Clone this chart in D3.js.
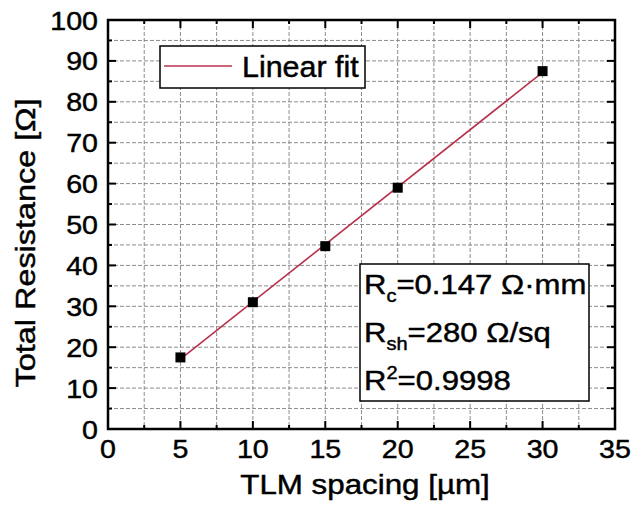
<!DOCTYPE html>
<html>
<head>
<meta charset="utf-8">
<script src="https://cdn.jsdelivr.net/npm/d3@7"></script>
<style>
  html, body { margin: 0; padding: 0; background: #fff; }
  svg { display: block; font-family: "Liberation Sans", Arial, sans-serif; }
  text { fill: #000; stroke: #000; stroke-width: 0.45px; }
</style>
</head>
<body>
<svg id="chart" width="634" height="506"></svg>
<script>
// TLM measurement: total resistance vs. pad spacing
const spacing = [5, 10, 15, 20, 30];               // µm
const resistance = [17.5, 31.0, 44.7, 59.0, 87.5]; // Ω
const xTicks = [0, 5, 10, 15, 20, 25, 30, 35];
const yTicks = [0, 10, 20, 30, 40, 50, 60, 70, 80, 90, 100];
const fitLabel = "Linear fit";
const resultLines = [
  { main: "R", sub: "c", sup: null, rest: "=0.147 Ω·mm" },
  { main: "R", sub: "sh", sup: null, rest: "=280 Ω/sq" },
  { main: "R", sub: null, sup: "2", rest: "=0.9998" }
];

const svg = d3.select("#chart");
const m = { left: 108, top: 20, right: 615, bottom: 429 };
const x = d3.scaleLinear().domain([0, 35]).range([m.left, m.right]);
const y = d3.scaleLinear().domain([0, 100]).range([m.bottom, m.top]);

// text with a slightly widened face
function label(parent, px, py, str, size, anchor, rot, sx) {
  const t = parent.append("text")
    .attr("transform", `translate(${px},${py}) rotate(${rot || 0}) scale(${sx || 1.1},1)`)
    .attr("font-size", size).attr("text-anchor", anchor || "start");
  if (str !== null) t.text(str);
  return t;
}

// dashed grid at minor positions
const gx = d3.range(2.5, 35, 2.5);
const gy = d3.range(5, 100, 5);
const grid = svg.append("g").attr("stroke", "#8c8c8c").attr("stroke-width", 1)
  .attr("stroke-dasharray", "4,2");
grid.selectAll(".gx").data(gx).join("line")
  .attr("x1", d => x(d)).attr("x2", d => x(d))
  .attr("y1", m.top).attr("y2", m.bottom);
grid.selectAll(".gy").data(gy).join("line")
  .attr("x1", m.left).attr("x2", m.right)
  .attr("y1", d => y(d)).attr("y2", d => y(d));

// inward ticks on all four sides
const tk = svg.append("g").attr("stroke", "#000").attr("stroke-width", 2);
const xMinor = d3.range(2.5, 35, 5);
const yMinor = d3.range(5, 100, 10);
function xt(vals, len) {
  vals.forEach(v => {
    tk.append("line").attr("x1", x(v)).attr("x2", x(v)).attr("y1", m.bottom).attr("y2", m.bottom - len);
    tk.append("line").attr("x1", x(v)).attr("x2", x(v)).attr("y1", m.top).attr("y2", m.top + len);
  });
}
function yt(vals, len) {
  vals.forEach(v => {
    tk.append("line").attr("y1", y(v)).attr("y2", y(v)).attr("x1", m.left).attr("x2", m.left + len);
    tk.append("line").attr("y1", y(v)).attr("y2", y(v)).attr("x1", m.right).attr("x2", m.right - len);
  });
}
xt(xTicks, 8); xt(xMinor, 4); yt(yTicks, 8); yt(yMinor, 4);

// frame
svg.append("rect").attr("x", m.left).attr("y", m.top)
  .attr("width", m.right - m.left).attr("height", m.bottom - m.top)
  .attr("fill", "none").attr("stroke", "#000").attr("stroke-width", 2.5);

// tick labels
const xl = svg.append("g");
xTicks.forEach(d => label(xl, x(d), 458, d, 26, "middle"));
const yl = svg.append("g");
yTicks.forEach(d => label(yl, 98, y(d) + 9.5, d, 26, "end"));

// axis titles
label(svg, 365, 494, "TLM spacing [µm]", 27, "middle", 0, 1.16);
label(svg, 35, 243, "Total Resistance [Ω]", 27, "middle", -90, 1.2);

// least-squares fit
const n = spacing.length;
const mx = d3.mean(spacing), my = d3.mean(resistance);
let sxy = 0, sxx = 0;
for (let i = 0; i < n; i++) { sxy += (spacing[i] - mx) * (resistance[i] - my); sxx += (spacing[i] - mx) ** 2; }
const slope = sxy / sxx, icpt = my - slope * mx;
const fitColor = "#b8304c";
const xr = d3.extent(spacing);
svg.append("line")
  .attr("x1", x(xr[0])).attr("y1", y(icpt + slope * xr[0]))
  .attr("x2", x(xr[1])).attr("y2", y(icpt + slope * xr[1]))
  .attr("stroke", fitColor).attr("stroke-width", 1.6);

// data markers
svg.append("g").selectAll("rect").data(spacing).join("rect")
  .attr("x", d => x(d) - 5).attr("y", (d, i) => y(resistance[i]) - 5)
  .attr("width", 10).attr("height", 10).attr("fill", "#000");

// legend
const lg = svg.append("g");
lg.append("rect").attr("x", 160).attr("y", 46).attr("width", 205).attr("height", 42)
  .attr("fill", "#fff").attr("stroke", "#000").attr("stroke-width", 1.5);
lg.append("line").attr("x1", 164).attr("x2", 232).attr("y1", 66).attr("y2", 66)
  .attr("stroke", fitColor).attr("stroke-width", 1.3);
label(lg, 242, 77, fitLabel, 29, "start", 0, 1.05);

// fit results box
const rb = svg.append("g");
rb.append("rect").attr("x", 360).attr("y", 264).attr("width", 229).attr("height", 137)
  .attr("fill", "#fff").attr("stroke", "#000").attr("stroke-width", 1.5);
resultLines.forEach((r, i) => {
  const t = label(rb, 364, 294 + i * 48, null, 28, "start", 0, 1.11);
  t.append("tspan").text(r.main);
  if (r.sub) t.append("tspan").attr("font-size", 18).attr("dy", 8).text(r.sub);
  if (r.sup) t.append("tspan").attr("font-size", 18).attr("dy", -11).text(r.sup);
  t.append("tspan").attr("dy", r.sub ? -8 : (r.sup ? 11 : 0)).text(r.rest);
});
</script>
</body>
</html>
